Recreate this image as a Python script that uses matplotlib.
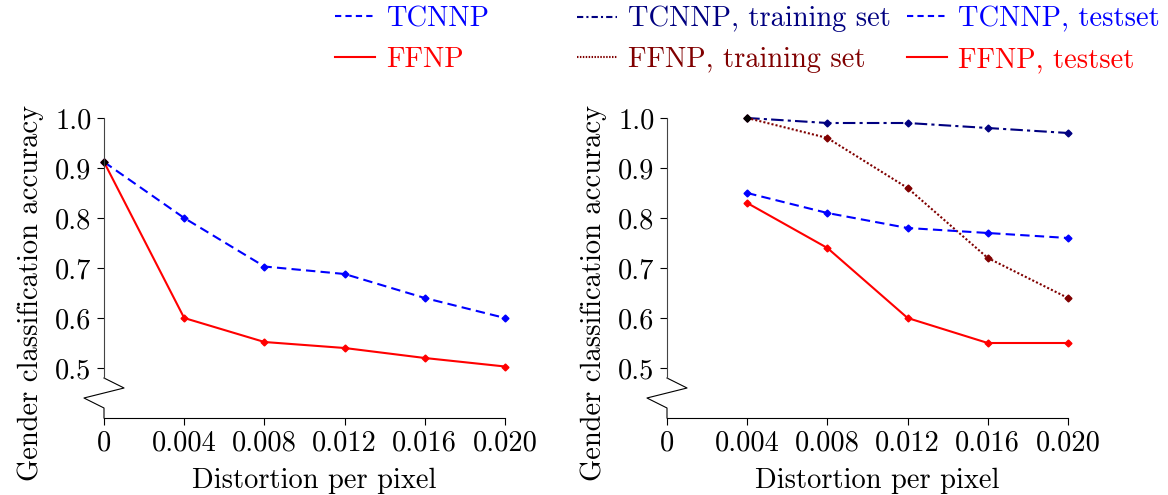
import matplotlib
matplotlib.use("Agg")
import matplotlib.pyplot as plt
import matplotlib.transforms as mtransforms
from matplotlib.lines import Line2D

plt.rcParams['font.family'] = ['cmr10', 'DejaVu Serif']
plt.rcParams['axes.formatter.use_mathtext'] = True
plt.rcParams['font.size'] = 20.5

# data
dist_left = [0.0, 0.004, 0.008, 0.012, 0.016, 0.020]
tcnnp_left = [0.912, 0.80, 0.703, 0.688, 0.64, 0.60]
ffnp_left = [0.912, 0.60, 0.552, 0.54, 0.52, 0.503]

dist_right = [0.004, 0.008, 0.012, 0.016, 0.020]
tcnnp_train = [1.0, 0.99, 0.99, 0.98, 0.97]
ffnp_train = [1.0, 0.96, 0.86, 0.72, 0.64]
tcnnp_test = [0.85, 0.81, 0.78, 0.77, 0.76]
ffnp_test = [0.83, 0.74, 0.60, 0.55, 0.55]

xticks = [0.0, 0.004, 0.008, 0.012, 0.016, 0.020]
xticklabels = ['0', '0.004', '0.008', '0.012', '0.016', '0.020']
yticks = [0.5, 0.6, 0.7, 0.8, 0.9, 1.0]
yticklabels = ['0.5', '0.6', '0.7', '0.8', '0.9', '1.0']

fig = plt.figure(figsize=(11.68, 4.95), dpi=100)
ax1 = fig.add_axes([104 / 1168, 1 - 418 / 495, 401 / 1168, 300 / 495])
ax2 = fig.add_axes([667 / 1168, 1 - 418 / 495, 401 / 1168, 300 / 495])

mk = dict(marker='D', markersize=3.5, lw=1.5, clip_on=False)
dash = (0, (4.5, 2.5))
dashdot = (0, (6, 2, 1.5, 2))
dot = (0, (1, 1))

ax1.plot(dist_left, tcnnp_left, color='blue', ls=dash, **mk)
ax1.plot(dist_left, ffnp_left, color='red', ls='-', **mk)
ax1.plot(dist_left[:1], tcnnp_left[:1], color='black', ls='none', marker='D', markersize=3.5, clip_on=False)

ax2.plot(dist_right, tcnnp_train, color='#000080', ls=dashdot, **mk)
ax2.plot(dist_right, ffnp_train, color='#800000', ls=dot, **mk)
ax2.plot(dist_right, tcnnp_test, color='blue', ls=dash, **mk)
ax2.plot(dist_right, ffnp_test, color='red', ls='-', **mk)
ax2.plot(dist_right[:1], tcnnp_train[:1], color='black', ls='none', marker='D', markersize=3.5, clip_on=False)

for ax in (ax1, ax2):
    ax.set_xlim(0, 0.020)
    ax.set_ylim(0.4, 1.0)
    ax.set_xticks(xticks)
    ax.set_xticklabels(xticklabels)
    ax.set_yticks(yticks)
    ax.set_yticklabels(yticklabels)
    ax.spines['top'].set_visible(False)
    ax.spines['right'].set_visible(False)
    ax.spines['left'].set_bounds(0.48, 1.0)
    ax.spines['left'].set_color('#444444')
    ax.tick_params(direction='out', length=5, width=0.8, pad=4)
    ax.set_xlabel('Distortion per pixel', labelpad=8)
    ax.xaxis.label.set_x(0.525)
    ax.set_ylabel('Gender classification accuracy', labelpad=8)
    ax.yaxis.label.set_y(0.417)
    # broken axis zigzag
    trans = mtransforms.blended_transform_factory(ax.transAxes, ax.transData)
    ax.plot([0, 0.05, -0.05, 0, 0], [0.48, 0.46, 0.44, 0.42, 0.4],
            color='black', lw=0.8, transform=trans, clip_on=False)


def legend_col(x_px, handles, labels, colors):
    leg = fig.legend(handles, labels, loc='upper left',
                     bbox_to_anchor=(x_px / 1168, 1 - 6 / 495), frameon=False,
                     borderpad=0, borderaxespad=0,
                     handlelength=1.4, handletextpad=0.4, labelspacing=0.5)
    for t, c in zip(leg.get_texts(), colors):
        t.set_color(c)
    return leg


h_tc = Line2D([], [], color='blue', ls=(0, (3, 2)), lw=1.5)
h_ff = Line2D([], [], color='red', ls='-', lw=1.5)
h_tctr = Line2D([], [], color='#000080', ls=(0, (3, 1.5, 1, 1.5)), lw=1.5)
h_fftr = Line2D([], [], color='#800000', ls=(0, (0.7, 0.7)), lw=1.5)

legend_col(335, [h_tc, h_ff], ['TCNNP', 'FFNP'], ['blue', 'red'])
legend_col(577, [h_tctr, h_fftr], ['TCNNP, training set', 'FFNP, training set'], ['#000080', '#800000'])
legend_col(907, [h_tc, h_ff], ['TCNNP, testset', 'FFNP, testset'], ['blue', 'red'])

fig.savefig('out.png', dpi=100)
